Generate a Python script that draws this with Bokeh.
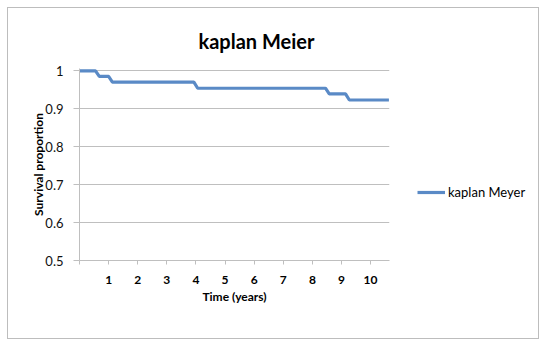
from bokeh.plotting import figure
from bokeh.models import Range1d, FixedTicker, Legend, LegendItem, ColumnDataSource, Title
from bokeh.embed import file_html
from bokeh.resources import INLINE

# Data: Kaplan-Meier survival steps (time in years)
event_times = [0.55, 1.0, 3.93, 8.45, 9.14]
survival = [1.0, 0.985, 0.970, 0.954, 0.939, 0.923]
end_time = 10.63
x_ticks = [0, 1, 2, 3, 4, 5, 6, 7, 8, 9, 10]
y_ticks = [0.5, 0.6, 0.7, 0.8, 0.9, 1.0]

DROP = 0.13  # visual width of each step transition (style)

xs, ys = [0.0], [survival[0]]
for i, t in enumerate(event_times):
    xs += [t, t + DROP]
    ys += [survival[i], survival[i + 1]]
xs.append(end_time)
ys.append(survival[-1])

FONT = "Lato"
GRID = "#BFBFBF"
BLUE = "#5A8AC6"

p = figure(frame_width=310, frame_height=192, output_backend="svg", toolbar_location=None,
           x_range=Range1d(0, 10.65), y_range=Range1d(0.5, 1.006),
           min_border_left=71, min_border_right=151, min_border_top=60, min_border_bottom=80)
p.styles = {"border": "1px solid #BDBDBD", "margin": "7px", "width": "532px",
            "height": "332px", "overflow": "hidden"}
p.outline_line_color = None
p.background_fill_color = "white"
p.border_fill_color = "white"

src = ColumnDataSource(dict(x=xs, y=ys))
r = p.line("x", "y", source=src, line_color=BLUE, line_width=3.2)

# title
t = Title(text="kaplan Meier", align="left", offset=119, text_font=FONT,
          text_font_size="20px", text_font_style="bold", text_color="black", standoff=32)
p.add_layout(t, "above")

# grid
p.xgrid.grid_line_color = None
p.ygrid.ticker = FixedTicker(ticks=y_ticks)
p.ygrid.grid_line_color = GRID
p.ygrid.grid_line_width = 1

# y axis
ya = p.yaxis[0]
ya.ticker = FixedTicker(ticks=y_ticks)
ya.major_label_overrides = {1.0: "1", 0.5: "0.5", 0.6: "0.6", 0.7: "0.7", 0.8: "0.8", 0.9: "0.9"}
ya.axis_line_color = GRID
ya.major_tick_line_color = GRID
ya.major_tick_out = 6
ya.major_tick_in = 0
ya.minor_tick_line_color = None
ya.major_label_text_font = FONT
ya.major_label_text_font_size = "13px"
ya.major_label_text_color = "#111111"
ya.major_label_standoff = 10
ya.axis_label = "Survival proportion"
ya.axis_label_text_font = FONT
ya.axis_label_text_font_size = "12px"
ya.axis_label_text_font_style = "bold"
ya.axis_label_text_color = "black"
ya.axis_label_standoff = -4

# x axis
xa = p.xaxis[0]
xa.ticker = FixedTicker(ticks=x_ticks)
xa.major_label_overrides = {0: ""}
xa.axis_line_color = GRID
xa.major_tick_line_color = GRID
xa.major_tick_out = 4
xa.major_tick_in = 0
xa.minor_tick_line_color = None
xa.major_label_text_font = FONT
xa.major_label_text_font_size = "12px"
xa.major_label_text_font_style = "bold"
xa.major_label_text_color = "black"
xa.major_label_standoff = 11
xa.axis_label = "Time (years)"
xa.axis_label_text_font = FONT
xa.axis_label_text_font_size = "12px"
xa.axis_label_text_font_style = "bold"
xa.axis_label_text_color = "black"
xa.axis_label_standoff = 2

legend = Legend(items=[LegendItem(label="kaplan Meyer", renderers=[r])],
                location=(28, 58), border_line_color=None, background_fill_alpha=0,
                label_text_font=FONT, label_text_font_size="13px", label_text_color="black",
                glyph_width=28, label_standoff=3, padding=0, margin=0)
p.add_layout(legend, "right")

open("out.html", "w").write(file_html(p, INLINE))
